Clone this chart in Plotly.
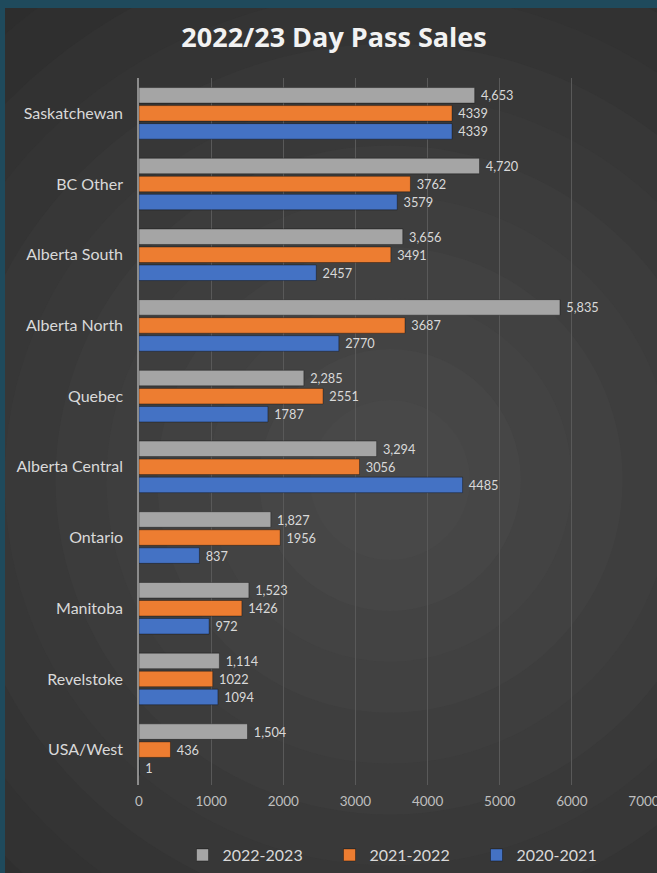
import plotly.graph_objects as go

# ---- data (top of chart first) ----
regions = ["Saskatchewan", "BC Other", "Alberta South", "Alberta North", "Quebec",
           "Alberta Central", "Ontario", "Manitoba", "Revelstoke", "USA/West"]
sales_2022_23 = [4653, 4720, 3656, 5835, 2285, 3294, 1827, 1523, 1114, 1504]
sales_2021_22 = [4339, 3762, 3491, 3687, 2551, 3056, 1956, 1426, 1022, 436]
sales_2020_21 = [4339, 3579, 2457, 2770, 1787, 4485, 837, 972, 1094, 1]
x_ticks = [0, 1000, 2000, 3000, 4000, 5000, 6000, 7000]

W, H = 657, 873
ML, MR, MT, MB = 139, 13, 78, 88
PW, PH = W - ML - MR, H - MT - MB

def xp(px):
    return (px - ML) / PW

def yp(py):
    return (H - MB - py) / PH

# plot bottom-to-top
cats = regions[::-1]
series = [
    ("2020-2021", sales_2020_21[::-1], "#4472C4", "\u00a0%{x}"),
    ("2021-2022", sales_2021_22[::-1], "#ED7D31", "\u00a0%{x}"),
    ("2022-2023", sales_2022_23[::-1], "#A5A5A5", "\u00a0%{x:,}"),
]

fig = go.Figure()
for name, vals, col, tmpl in series:
    fig.add_trace(go.Bar(
        y=cats, x=vals, name=name, orientation="h",
        marker=dict(color=col, line=dict(color="rgba(0,0,0,0.35)", width=1)),
        texttemplate=tmpl, textposition="outside", cliponaxis=False,
        textfont=dict(color="#D9D9D9", size=14, family="Lato"),
    ))

# background: dark panel with radial banding
shapes = [dict(type="rect", xref="paper", yref="paper",
               x0=xp(0), x1=xp(W), y0=yp(H), y1=yp(0),
               fillcolor="#2B2B2B", line_width=0, layer="below")]
cx, cy = 390, 480
n = 12
for i in range(n):
    r = 640 - i * (560 / (n - 1))
    t = i / (n - 1)
    c0, c1 = 0x2D, 0x48
    v = int(round(c0 + (c1 - c0) * t))
    col = "#{0:02X}{0:02X}{0:02X}".format(v)
    shapes.append(dict(type="circle", xref="paper", yref="paper",
                       x0=xp(cx - r), x1=xp(cx + r), y0=yp(cy + r), y1=yp(cy - r),
                       fillcolor=col, line_width=0, layer="below"))
# teal frame
shapes.append(dict(type="rect", xref="paper", yref="paper",
                   x0=xp(-700), x1=xp(5), y0=yp(H + 700), y1=yp(-700),
                   fillcolor="#1F4A5C", line_width=0, layer="below"))
shapes.append(dict(type="rect", xref="paper", yref="paper",
                   x0=xp(-700), x1=xp(W + 700), y0=yp(8), y1=yp(-700),
                   fillcolor="#1F4A5C", line_width=0, layer="below"))

fig.update_layout(
    width=W, height=H,
    margin=dict(l=ML, r=MR, t=MT, b=MB, autoexpand=False),
    paper_bgcolor="#1F4A5C", plot_bgcolor="rgba(0,0,0,0)",
    barmode="group", bargap=0.235, bargroupgap=0.14,
    title=dict(text="<b>2022/23 Day Pass Sales</b>", x=334 / W, xanchor="center",
               y=1 - 38 / H, yanchor="middle",
               font=dict(size=27, color="#F2F2F2", family="Open Sans")),
    font=dict(family="Lato", color="#D9D9D9"),
    xaxis=dict(range=[0, 7000], tickvals=x_ticks, ticktext=[str(v) for v in x_ticks],
               showgrid=True, gridcolor="#595959", gridwidth=1, zeroline=False,
               showline=False, tickfont=dict(size=13.5, color="#BFBFBF"),
               ticks="", fixedrange=True, ticklabeloverflow="allow", automargin=False,
               ticklabelstandoff=6),
    yaxis=dict(showgrid=False, showline=True, linecolor="#8C8C8C", linewidth=1.5,
               tickfont=dict(size=16, color="#D9D9D9"), ticks="",
               ticklabelstandoff=11, fixedrange=True, automargin=False),
    legend=dict(orientation="h", x=xp(403), xanchor="center", y=yp(855), yanchor="middle",
                traceorder="reversed", font=dict(size=16, color="#D9D9D9"),
                bgcolor="rgba(0,0,0,0)", entrywidth=102, entrywidthmode="pixels"),
    shapes=shapes,
)

fig.write_html("out.html", config={"displayModeBar": False},
               post_script="document.body.style.margin='0';document.body.style.overflow='hidden';")
